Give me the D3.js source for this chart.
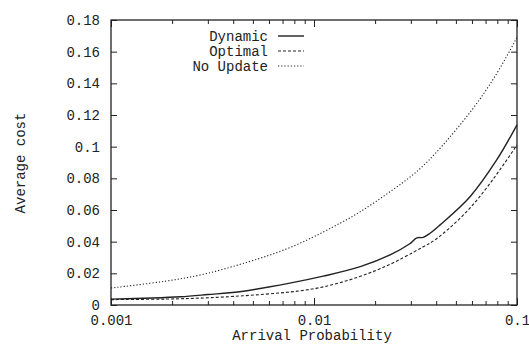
<!DOCTYPE html>
<html>
<head>
<meta charset="utf-8">
<script src="https://cdn.jsdelivr.net/npm/d3@7"></script>
<style>
  body { margin: 0; background: #fff; }
  svg text { font-family: "Liberation Mono", "DejaVu Sans Mono", monospace; fill: #222; }
</style>
</head>
<body>
<div id="chart"></div>
<script>
// arrival probability (x) and average cost (y)
const dynamicP = [0.001, 0.0016, 0.0022, 0.003, 0.0043, 0.0076, 0.0111, 0.0169, 0.0237, 0.0295, 0.0321, 0.0345, 0.0373, 0.0418, 0.0587, 0.0794, 0.1];
const dynamicCost = [0.0037, 0.0044, 0.0052, 0.0066, 0.0084, 0.0138, 0.0182, 0.0242, 0.0316, 0.0385, 0.0424, 0.0427, 0.0453, 0.0506, 0.0684, 0.0916, 0.1138];

const optimalP = [0.001, 0.0016, 0.0022, 0.003, 0.0043, 0.0076, 0.0111, 0.0169, 0.0237, 0.0321, 0.0373, 0.0418, 0.0587, 0.0794, 0.1];
const optimalCost = [0.0034, 0.0036, 0.0039, 0.0045, 0.0056, 0.0079, 0.0109, 0.0177, 0.0253, 0.0345, 0.039, 0.0432, 0.060, 0.0822, 0.101];

const noUpdateP = [0.001, 0.0016, 0.0022, 0.003, 0.0043, 0.0076, 0.0129, 0.0169, 0.0237, 0.0321, 0.0418, 0.0609, 0.08, 0.1];
const noUpdateCost = [0.0107, 0.0138, 0.0164, 0.0198, 0.0255, 0.0352, 0.0503, 0.0585, 0.0715, 0.0835, 0.0985, 0.1235, 0.146, 0.169];

const seriesNames = ['Dynamic', 'Optimal', 'No Update'];
const yTicks = [0, 0.02, 0.04, 0.06, 0.08, 0.1, 0.12, 0.14, 0.16, 0.18];
const xMajorTicks = [0.001, 0.01, 0.1];
const xMinorTicks = [0.002, 0.003, 0.004, 0.005, 0.006, 0.007, 0.008, 0.009,
  0.02, 0.03, 0.04, 0.05, 0.06, 0.07, 0.08, 0.09];

const width = 529;
const height = 345;
const plotLeft = 111, plotRight = 517, plotTop = 20, plotBottom = 305;

const svg = d3.select('#chart').append('svg')
  .attr('width', width)
  .attr('height', height);

const x = d3.scaleLog().domain([0.001, 0.1]).range([plotLeft, plotRight]);
const y = d3.scaleLinear().domain([0, 0.18]).range([plotBottom, plotTop]);

const fmt = (d) => String(+d.toFixed(3));

// left axis with labels, ticks pointing inward
svg.append('g')
  .attr('transform', `translate(${plotLeft},0)`)
  .call(d3.axisLeft(y).tickValues(yTicks).tickFormat(fmt).tickSizeInner(-6).tickSizeOuter(0).tickPadding(11))
  .select('.domain').remove();

svg.append('g')
  .attr('transform', `translate(${plotRight},0)`)
  .call(d3.axisRight(y).tickValues(yTicks).tickFormat('').tickSizeInner(-6).tickSizeOuter(0))
  .select('.domain').remove();

// bottom axis
svg.append('g')
  .attr('transform', `translate(0,${plotBottom})`)
  .call(d3.axisBottom(x).tickValues(xMajorTicks).tickFormat(fmt).tickSizeInner(-7).tickSizeOuter(0).tickPadding(10))
  .select('.domain').remove();

svg.append('g')
  .attr('transform', `translate(0,${plotBottom})`)
  .call(d3.axisBottom(x).tickValues(xMinorTicks).tickFormat('').tickSizeInner(-4).tickSizeOuter(0))
  .select('.domain').remove();

// top axis
svg.append('g')
  .attr('transform', `translate(0,${plotTop})`)
  .call(d3.axisTop(x).tickValues(xMajorTicks).tickFormat('').tickSizeInner(-7).tickSizeOuter(0))
  .select('.domain').remove();
svg.append('g')
  .attr('transform', `translate(0,${plotTop})`)
  .call(d3.axisTop(x).tickValues(xMinorTicks).tickFormat('').tickSizeInner(-4).tickSizeOuter(0))
  .select('.domain').remove();

svg.selectAll('.tick line').attr('stroke', '#222').attr('stroke-width', 1);
svg.selectAll('.tick text').style('font-size', '14px').attr('fill', '#222');

// frame
svg.append('rect')
  .attr('x', plotLeft).attr('y', plotTop)
  .attr('width', plotRight - plotLeft).attr('height', plotBottom - plotTop)
  .attr('fill', 'none').attr('stroke', '#222').attr('stroke-width', 1.3);

// curves
const makeLine = (curve) => d3.line()
  .x((d) => x(d[0]))
  .y((d) => y(d[1]))
  .curve(curve);

const series = [
  { name: seriesNames[0], data: d3.zip(dynamicP, dynamicCost), dash: null, width: 1.4, curve: d3.curveCatmullRom },
  { name: seriesNames[1], data: d3.zip(optimalP, optimalCost), dash: '3,2', width: 1.1, curve: d3.curveBasis },
  { name: seriesNames[2], data: d3.zip(noUpdateP, noUpdateCost), dash: '1.2,2', width: 1.1, curve: d3.curveBasis },
];

svg.selectAll('path.curve')
  .data(series)
  .join('path')
  .attr('class', 'curve')
  .attr('d', (d) => makeLine(d.curve)(d.data))
  .attr('fill', 'none')
  .attr('stroke', '#222')
  .attr('stroke-width', (d) => d.width)
  .attr('stroke-dasharray', (d) => d.dash);

// legend
const legend = svg.append('g');
series.forEach((s, i) => {
  const ly = 36 + i * 15;
  legend.append('text')
    .attr('x', 268).attr('y', ly)
    .attr('dy', '0.35em')
    .attr('text-anchor', 'end')
    .style('font-size', '14px')
    .text(s.name);
  legend.append('line')
    .attr('x1', 278).attr('x2', 304)
    .attr('y1', ly).attr('y2', ly)
    .attr('stroke', '#222')
    .attr('stroke-width', s.width)
    .attr('stroke-dasharray', s.dash);
});

// axis titles
svg.append('text')
  .attr('x', 312).attr('y', 335)
  .attr('text-anchor', 'middle')
  .attr('dy', '0.35em')
  .style('font-size', '14px')
  .text('Arrival Probability');

svg.append('text')
  .attr('transform', 'translate(20,163) rotate(-90)')
  .attr('text-anchor', 'middle')
  .attr('dy', '0.35em')
  .style('font-size', '14px')
  .text('Average cost');
</script>
</body>
</html>
